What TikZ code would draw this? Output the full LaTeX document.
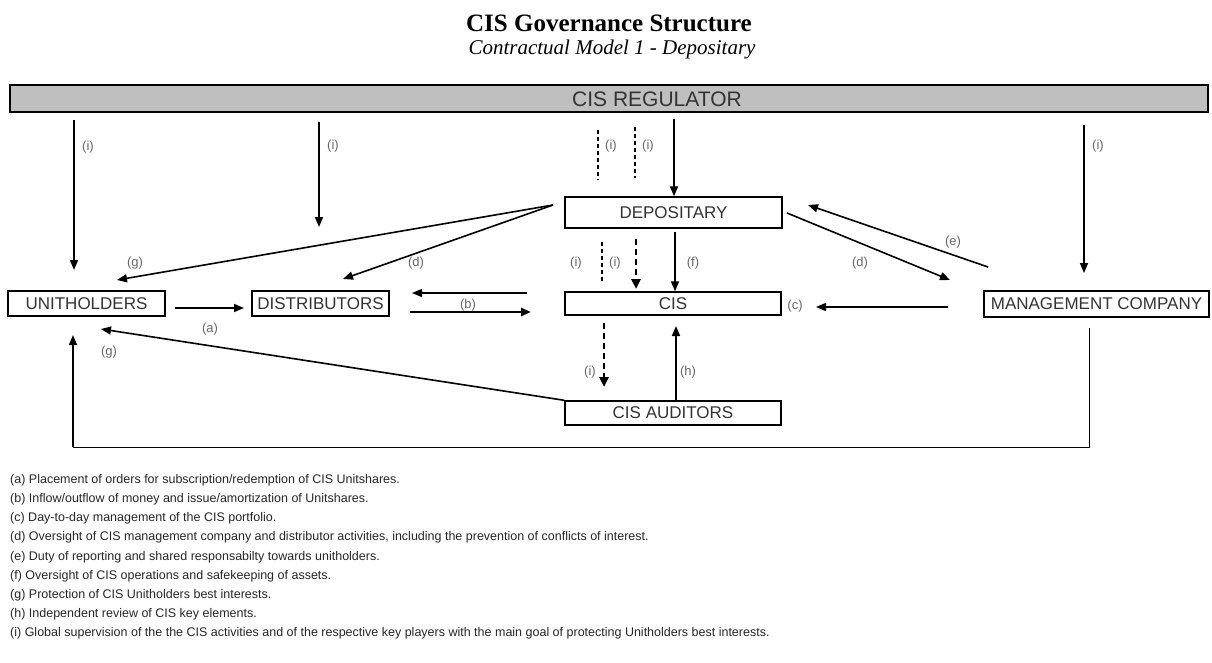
\documentclass[tikz,border=0pt]{standalone}
\usepackage{fontspec}
\setmainfont{Liberation Sans}
\newfontfamily\seriffam{Liberation Serif}
\usetikzlibrary{arrows.meta}
\begin{document}
\begin{tikzpicture}[x=1pt,y=-1pt,
  box/.style={draw, line width=1.4pt, inner sep=0pt, font=\fontsize{17}{20}\selectfont, text=black!80},
  arr/.style={line width=1.6pt, -{Triangle[length=10pt,width=8pt]}},
  dsh/.style={line width=1.5pt, dash pattern=on 4pt off 3pt},
  dsharr/.style={line width=2.6pt, dash pattern=on 6pt off 4pt, -{Triangle[length=10pt,width=9pt]}},
  lab/.style={font=\fontsize{13}{15}\selectfont, text=black!60, inner sep=0pt},
  leg/.style={font=\fontsize{12.5}{15}\selectfont, text=black!85, anchor=west, inner sep=0pt}]
\useasboundingbox (0,0) rectangle (1212,662);
% titles
\node[font=\seriffam\bfseries\fontsize{25}{30}\selectfont] (title) at (609,23) {CIS Governance Structure};
\node[font=\seriffam\itshape\fontsize{21}{25}\selectfont] (sub) at (612,49) {Contractual Model 1 - Depositary};
% regulator
\node[box, fill=black!25, line width=2.2pt, minimum width=1198pt, minimum height=27pt] (reg) at (609,98.5) {};
\node[font=\fontsize{21}{24}\selectfont, text=black!80] (regt) at (657,99) {CIS REGULATOR};
% boxes
\node[box, minimum width=217pt, minimum height=31pt] (dep) at (673.5,212.5) {DEPOSITARY};
\node[box, minimum width=157pt, minimum height=25pt] (uh) at (86.5,303.5) {UNITHOLDERS};
\node[box, minimum width=137pt, minimum height=25pt] (dist) at (320.5,303.5) {DISTRIBUTORS};
\node[box, minimum width=216pt, minimum height=23pt] (cis) at (673,303.5) {CIS};
\node[box, minimum width=216pt, minimum height=24pt] (aud) at (673,413) {CIS AUDITORS};
\node[box, minimum width=225pt, minimum height=26pt] (mc) at (1096.5,304) {MANAGEMENT COMPANY};
% coordinates
\coordinate (r1s) at (74,120); \coordinate (r1e) at (74,270);
\coordinate (r2s) at (319,122); \coordinate (r2e) at (319,227);
\coordinate (r3s) at (598,130); \coordinate (r3e) at (598,180);
\coordinate (r4s) at (635,127); \coordinate (r4e) at (635,178);
\coordinate (r5s) at (674,119);
\coordinate (r6s) at (1084,125); \coordinate (r6e) at (1084,273);
\coordinate (dl) at (553,205);
\coordinate (ge) at (117,280);
\coordinate (de) at (343,279);
\coordinate (q1s) at (602,242); \coordinate (q1e) at (602,283);
\coordinate (q2s) at (636,239); \coordinate (q2e) at (636,289);
\coordinate (fs) at (675,232);
\coordinate (d2s) at (787,213); \coordinate (d2e) at (950,280);
\coordinate (es) at (988,267); \coordinate (ee) at (808,205);
\coordinate (as) at (175,308); \coordinate (ae) at (244,308);
\coordinate (b1s) at (527,293); \coordinate (b1e) at (412,293);
\coordinate (b2s) at (410,312); \coordinate (b2e) at (531,312);
\coordinate (cs) at (948,307); \coordinate (ce) at (816,307);
\coordinate (is) at (604,323); \coordinate (ie) at (604,387);
\coordinate (he) at (676,326);
\coordinate (g2e) at (101,329);
\coordinate (ms) at (1089,328); \coordinate (mcor) at (1089,447); \coordinate (ucor) at (73,447);
\coordinate (ue) at (73,335);
% connectors from regulator
\draw[arr] (r1s) -- (r1e);
\draw[arr] (r2s) -- (r2e);
\draw[dsh] (r3s) -- (r3e);
\draw[dsh] (r4s) -- (r4e);
\draw[arr] (r5s) -- (dep.north -| r5s);
\draw[arr] (r6s) -- (r6e);
% depositary connectors
\draw[arr] (dl) -- (ge);
\draw[arr] (dl) -- (de);
\draw[dsh] (q1s) -- (q1e);
\draw[dsharr] (q2s) -- (q2e);
\draw[arr] (fs) -- (cis.north -| fs);
\draw[arr] (d2s) -- (d2e);
\draw[arr] (es) -- (ee);
% middle row
\draw[arr] (as) -- (ae);
\draw[arr] (b1s) -- (b1e);
\draw[arr, line width=2.8pt] (b2s) -- (b2e);
\draw[arr] (cs) -- (ce);
% lower
\draw[dsharr] (is) -- (ie);
\draw[arr] (aud.north -| he) -- (he);
\draw[arr] (aud.north west) -- (g2e);
\draw[line width=1pt] (ms) -- (mcor) -- (ucor);
\draw[arr] (ucor) -- (ue);
% labels
\node[lab] (l1) at (88,147) {(i)};
\node[lab] (l2) at (333,146) {(i)};
\node[lab] (l3) at (611,146) {(i)};
\node[lab] (l4) at (648,146) {(i)};
\node[lab] (l5) at (1098,146) {(i)};
\node[lab] (lg1) at (135,263) {(g)};
\node[lab] (ld1) at (416,263) {(d)};
\node[lab] (li1) at (576,263) {(i)};
\node[lab] (li2) at (615,263) {(i)};
\node[lab] (lf) at (693,263) {(f)};
\node[lab] (ld2) at (860,263) {(d)};
\node[lab] (le) at (953,242) {(e)};
\node[lab] (la) at (210,329) {(a)};
\node[lab] (lb) at (468,305) {(b)};
\node[lab] (lc) at (795,306) {(c)};
\node[lab] (li3) at (590,372) {(i)};
\node[lab] (lh) at (688,372) {(h)};
\node[lab] (lg2) at (109,352) {(g)};
% legend
\node[leg] (ta) at (10,480) {(a) Placement of orders for subscription/redemption of CIS Unitshares.};
\node[leg] (tb) at (10,499) {(b) Inflow/outflow of money and issue/amortization of Unitshares.};
\node[leg] (tc) at (10,518) {(c) Day-to-day management of the CIS portfolio.};
\node[leg] (td) at (10,537) {(d) Oversight of CIS management company and distributor activities, including the prevention of conflicts of interest.};
\node[leg] (te) at (10,557) {(e) Duty of reporting and shared responsabilty towards unitholders.};
\node[leg] (tf) at (10,576) {(f) Oversight of CIS operations and safekeeping of assets.};
\node[leg] (tg) at (10,595) {(g) Protection of CIS Unitholders best interests.};
\node[leg] (th) at (10,614) {(h) Independent review of CIS key elements.};
\node[leg] (ti) at (10,633) {(i) Global supervision of the the CIS activities and of the respective key players with the main goal of protecting Unitholders best interests.};
\end{tikzpicture}
\end{document}
